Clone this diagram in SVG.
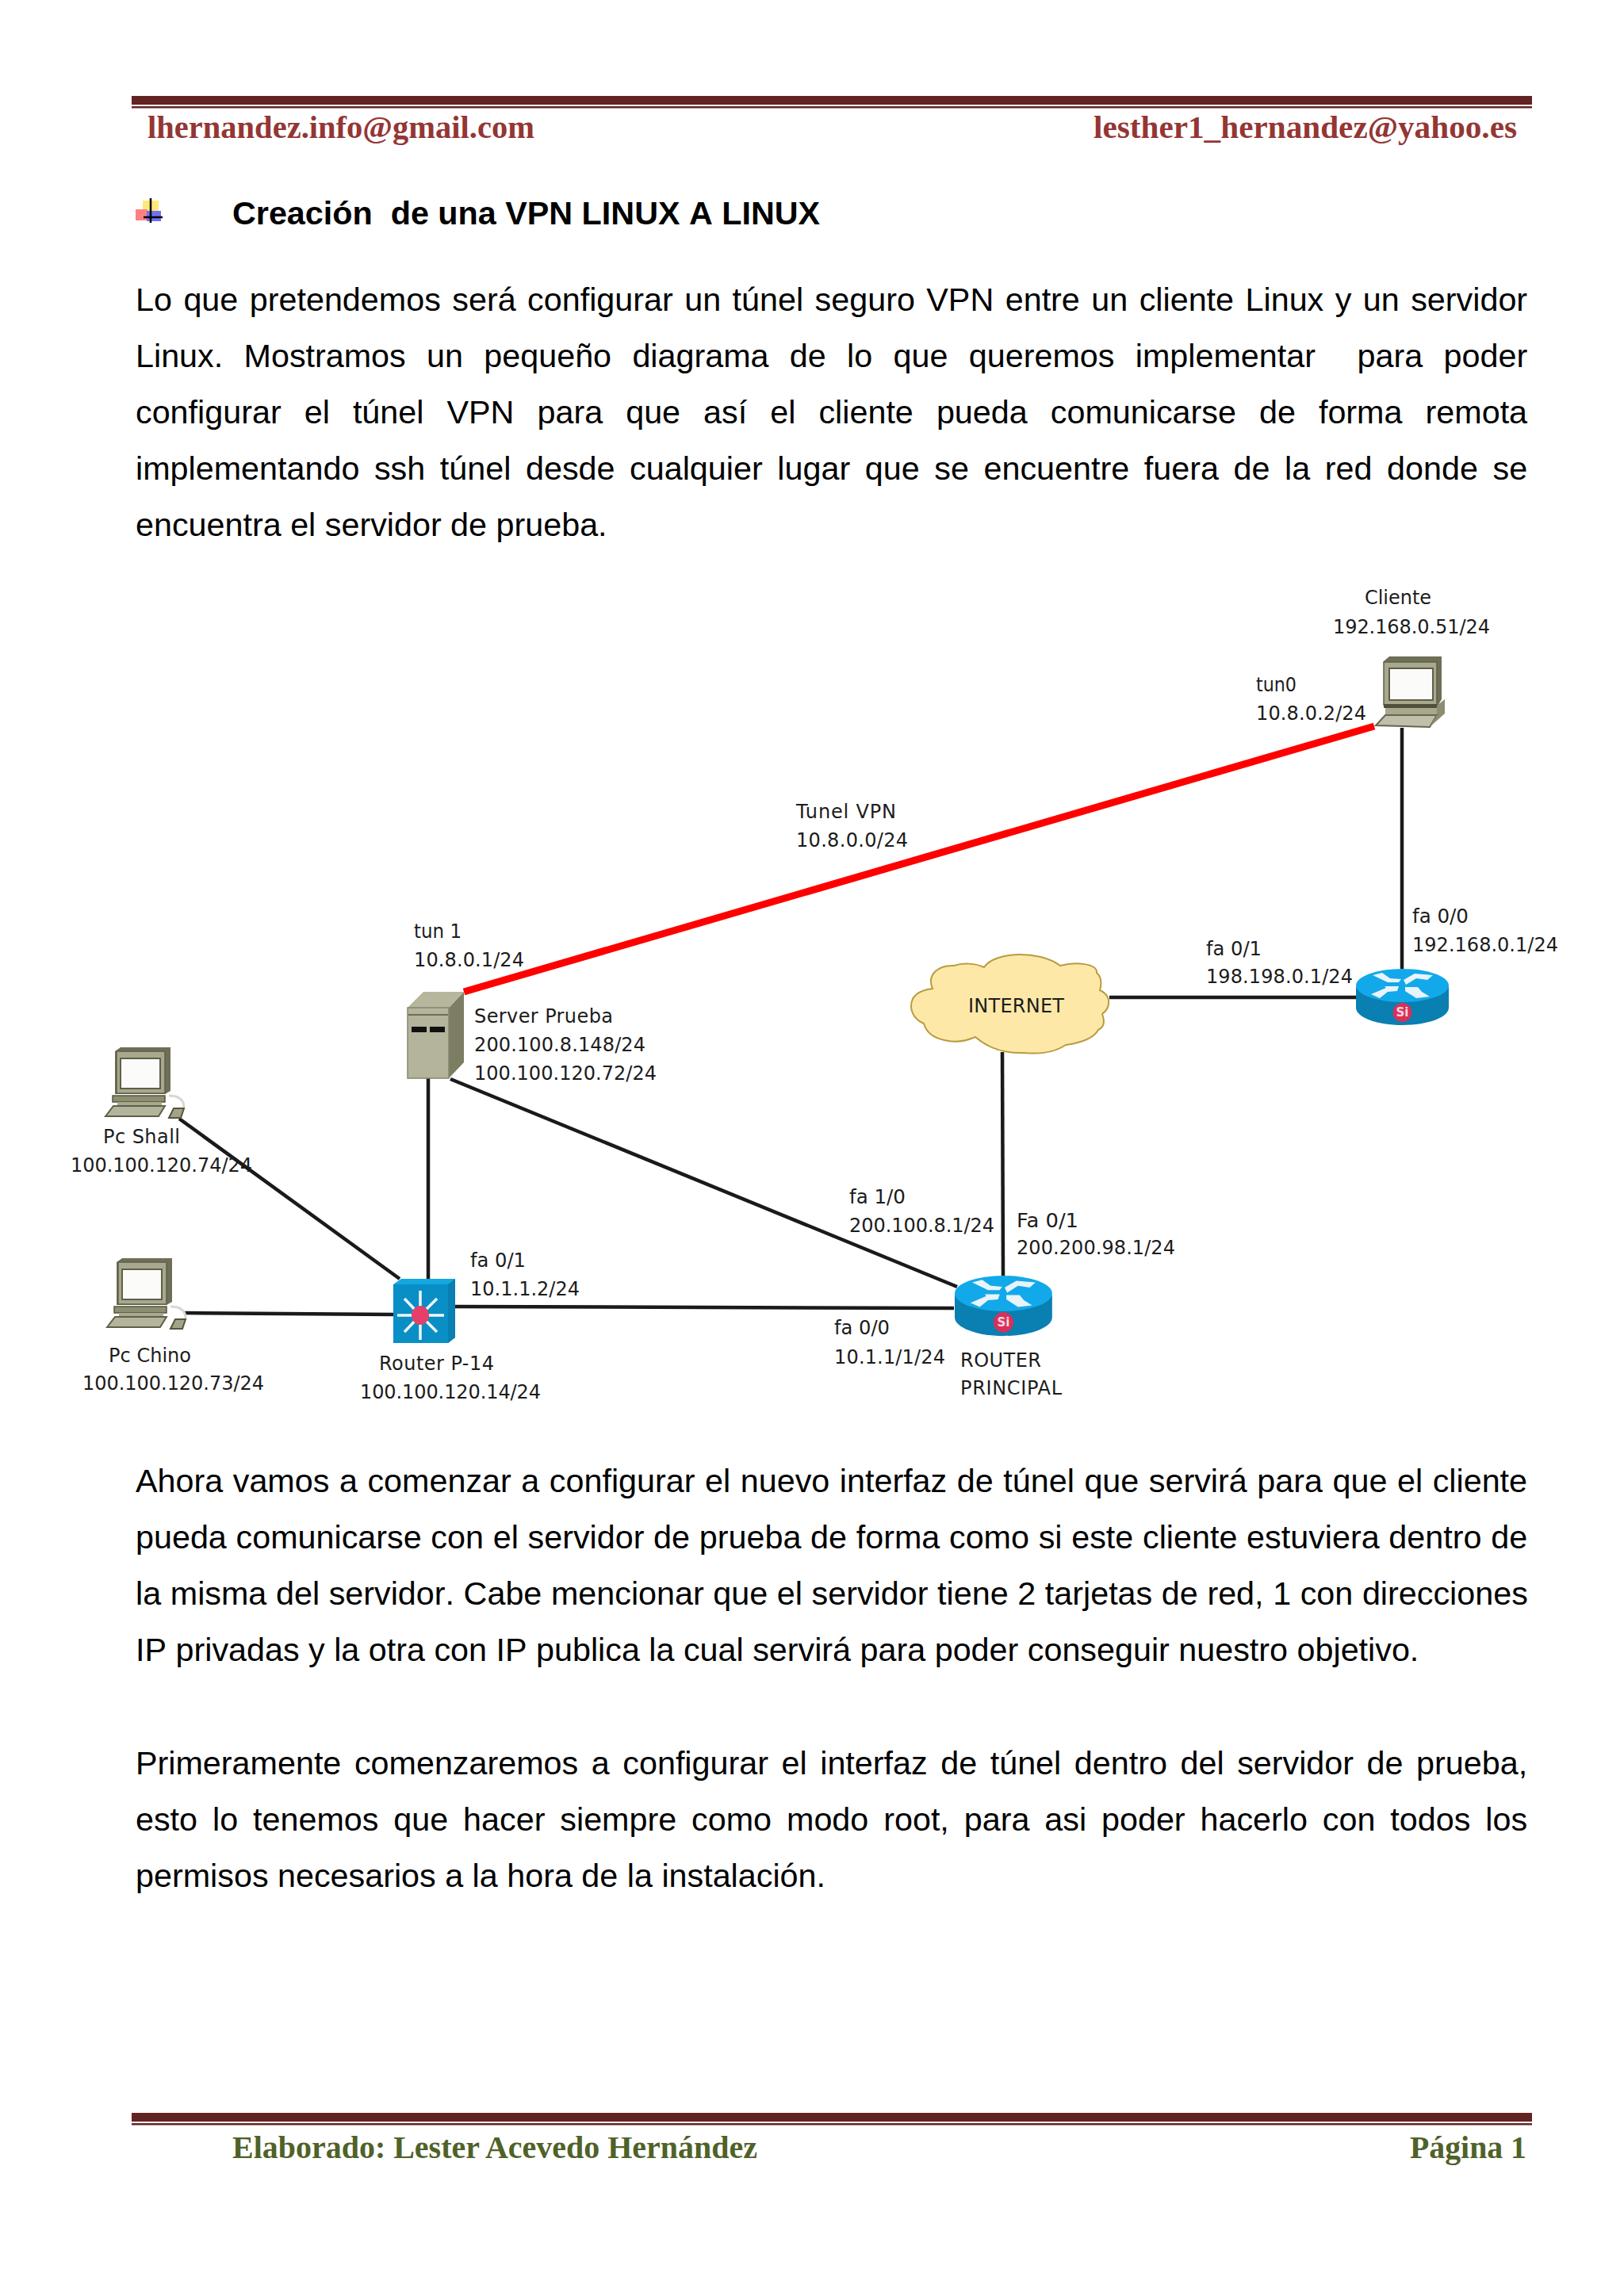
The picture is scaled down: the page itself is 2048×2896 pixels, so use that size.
<svg xmlns="http://www.w3.org/2000/svg" width="2048" height="2896" viewBox="0 0 2048 2896">
<style>
.b{font-family:"Liberation Sans",Arial,sans-serif;font-size:41.3px;fill:#000;font-kerning:none;white-space:pre}
.t{font-family:"Liberation Sans",Arial,sans-serif;font-size:41.3px;font-weight:bold;fill:#000;font-kerning:none;white-space:pre}
.h{font-family:"Liberation Serif","Times New Roman",serif;font-size:41px;font-weight:bold;fill:#943634}
.f{font-family:"Liberation Serif","Times New Roman",serif;font-size:41px;font-weight:bold;fill:#4f6228}
.l{font-family:"DejaVu Sans",Verdana,sans-serif;font-size:24px;fill:#1c1c1c}
.si{font-family:"DejaVu Sans",Verdana,sans-serif;font-size:15px;font-weight:bold;fill:#f4d8de;text-anchor:middle}
.rule{fill:#622423}
.wire{fill:none;stroke:#1a1a1a;stroke-width:4.500}
.vpn{fill:none;stroke:#f00;stroke-width:9}
</style>
<defs>
<g id="router-icon">
<path d="M0 23V49C0 61 26 71 58.500 71S117 61 117 49V23Z" fill="#0a7fb2"/>
<ellipse cx="58.500" cy="21" rx="58.500" ry="21" fill="#12a9ea"/>
<g fill="#e8f4fa">
<path d="M21 8L33 5L43 12L57 13L54 17L40 17Z"/>
<path d="M97 8L74 6L60 14L63 20L76 12L90 14Z"/>
<path d="M19 32L38 24L36 22L54 22L52 28L40 29L30 37Z"/>
<path d="M93 35L76 37L62 28L62 23L78 23L83 29Z"/>
</g>
<circle cx="58.500" cy="55" r="12" fill="#d8305a"/>
</g>
<g id="pc-icon">
<path d="M11 6L18 1H81V56L74 60H11Z" fill="#6f6f58"/>
<rect x="13" y="6" width="61" height="53" fill="#a8a88e" stroke="#5f5f48" stroke-width="1.500"/>
<rect x="18" y="15" width="50" height="38" fill="#fbfbf9" stroke="#5f5f48" stroke-width="2"/>
<rect x="8" y="62" width="66" height="8" fill="#8d8d72" stroke="#55553f" stroke-width="1.500"/>
<rect x="14" y="70" width="56" height="5" fill="#a8a88e"/>
<path d="M-1 88L9 75H74L66 88Z" fill="#b4b49c" stroke="#5f5f48" stroke-width="2"/>
<path d="M79 62C90 62 98 66 98 77" fill="none" stroke="#d8d8d0" stroke-width="3"/>
<path d="M79 90L85 78H98L94 90Z" fill="#a3a388" stroke="#55553f" stroke-width="2"/>
</g>
</defs>
<rect width="2048" height="2896" fill="#fff"/>

<rect class="rule" x="166" y="121" width="1766" height="11"/>
<rect class="rule" x="166" y="134" width="1766" height="2.500"/>
<text class="h" x="186" y="173.500" textLength="488" lengthAdjust="spacingAndGlyphs">lhernandez.info@gmail.com</text>
<text class="h" x="1379" y="173.500" textLength="534" lengthAdjust="spacingAndGlyphs">lesther1_hernandez@yahoo.es</text>

<g id="bullet">
<rect x="180" y="253" width="20" height="22" fill="#ffe97a"/>
<rect x="171" y="264" width="15" height="14" fill="#ff8080"/>
<rect x="185" y="266" width="18" height="13" fill="#7070f0"/>
<path d="M190 250V281M181 274H205" stroke="#000" stroke-width="2.500" fill="none"/>
</g>
<text class="t" x="293" y="282.500">Creación  de una VPN LINUX A LINUX</text>

<text class="b" x="171" y="391.500" word-spacing="2.990">Lo que pretendemos será configurar un túnel seguro VPN entre un cliente Linux y un servidor</text>
<text class="b" x="171" y="462.500" word-spacing="14.840">Linux. Mostramos un pequeño diagrama de lo que queremos implementar  para poder</text>
<text class="b" x="171" y="533.500" word-spacing="17.580">configurar el túnel VPN para que así el cliente pueda comunicarse de forma remota</text>
<text class="b" x="171" y="604.500" word-spacing="7.130">implementando ssh túnel desde cualquier lugar que se encuentre fuera de la red donde se</text>
<text class="b" x="171" y="675.500">encuentra el servidor de prueba.</text>

<g id="connectors">
<path class="vpn" d="M585 1251L1733 916"/>
<path class="wire" d="M1768 918V1222"/>
<path class="wire" d="M1399 1258H1710"/>
<path class="wire" d="M1264 1327L1265 1609"/>
<path class="wire" d="M568 1361L1207 1623"/>
<path class="wire" d="M574 1648L1203 1650"/>
<path class="wire" d="M540 1360V1613"/>
<path class="wire" d="M226 1411L504 1613"/>
<path class="wire" d="M233 1656L496 1658"/>
</g>

<g id="cliente">
<path d="M1745 834L1752 828H1818V882L1812 892H1745Z" fill="#6f6f58"/>
<rect x="1745" y="835" width="67" height="54" fill="#a8a88e" stroke="#5f5f48" stroke-width="1.500"/>
<rect x="1752" y="843" width="55" height="40" fill="#fbfbf9" stroke="#5f5f48" stroke-width="2"/>
<rect x="1745" y="888" width="67" height="5" fill="#4f4f3a"/>
<path d="M1812 890L1822 882V900L1812 905Z" fill="#8d8d72"/>
<rect x="1747" y="893" width="65" height="9" fill="#a8a88e"/>
<path d="M1735 915L1747 902H1812L1803 917Z" fill="#c0c0aa" stroke="#66664f" stroke-width="2"/>
<path d="M1812 902L1822 900L1803 917Z" fill="#8d8d72"/>
<text class="l" x="1721" y="762" textLength="84" lengthAdjust="spacingAndGlyphs">Cliente</text>
<text class="l" x="1681" y="799" textLength="198">192.168.0.51/24</text>
<text class="l" x="1584" y="872" textLength="51" lengthAdjust="spacingAndGlyphs">tun0</text>
<text class="l" x="1584" y="908" textLength="139">10.8.0.2/24</text>
</g>

<g id="router-r">
<use href="#router-icon" x="1710" y="1222"/>
<text class="si" x="1768.500" y="1282">Si</text>
<text class="l" x="1781" y="1164" textLength="71" lengthAdjust="spacingAndGlyphs">fa 0/0</text>
<text class="l" x="1781" y="1200" textLength="184">192.168.0.1/24</text>
<text class="l" x="1521" y="1205" textLength="70" lengthAdjust="spacingAndGlyphs">fa 0/1</text>
<text class="l" x="1521" y="1240" textLength="185">198.198.0.1/24</text>
</g>

<g id="internet">
<path d="M1149 1269C1149 1255 1160 1249 1176 1247C1168 1228 1185 1217 1203 1218C1214 1214 1230 1215 1241 1220C1254 1200 1310 1198 1337 1218C1356 1213 1384 1215 1383 1227C1390 1233 1389 1243 1387 1249C1396 1253 1399 1260 1398 1265C1398 1271 1394 1276 1390 1279C1394 1290 1392 1296 1385 1299C1378 1312 1358 1316 1344 1318C1326 1330 1305 1329 1291 1328C1268 1329 1246 1322 1230 1308C1216 1314 1202 1315 1191 1312C1177 1309 1168 1302 1165 1291C1155 1287 1149 1278 1149 1269Z" fill="#fde8a8" stroke="#b89c3e" stroke-width="2"/>
<text class="l" x="1221" y="1277" textLength="121">INTERNET</text>
</g>

<g id="router-principal">
<use href="#router-icon" transform="translate(1204 1609) scale(1.050 1.070)"/>
<text class="si" x="1265.500" y="1673">Si</text>
<text class="l" x="1071" y="1518" textLength="71" lengthAdjust="spacingAndGlyphs">fa 1/0</text>
<text class="l" x="1071" y="1554" textLength="183">200.100.8.1/24</text>
<text class="l" x="1282" y="1548" textLength="78" lengthAdjust="spacingAndGlyphs">Fa 0/1</text>
<text class="l" x="1282" y="1582" textLength="200">200.200.98.1/24</text>
<text class="l" x="1052" y="1683" textLength="70" lengthAdjust="spacingAndGlyphs">fa 0/0</text>
<text class="l" x="1052" y="1720" textLength="140">10.1.1/1/24</text>
<text class="l" x="1211" y="1724" textLength="102">ROUTER</text>
<text class="l" x="1211" y="1759" textLength="128">PRINCIPAL</text>
</g>

<g id="server-prueba">
<path d="M566 1271L585 1251V1340L566 1360Z" fill="#7d7d63"/>
<path d="M514 1271L534 1251H585L566 1271Z" fill="#b6b69d"/>
<rect x="514" y="1271" width="52" height="89" fill="#b4b49c" stroke="#85856d" stroke-width="1.500"/>
<path d="M515 1280H565" stroke="#6d6d55" stroke-width="2"/>
<rect x="519" y="1295" width="19" height="7" fill="#111"/>
<rect x="542" y="1295" width="19" height="7" fill="#111"/>
<text class="l" x="598" y="1290" textLength="175">Server Prueba</text>
<text class="l" x="598" y="1326" textLength="216">200.100.8.148/24</text>
<text class="l" x="598" y="1362" textLength="230">100.100.120.72/24</text>
<text class="l" x="522" y="1183" textLength="60" lengthAdjust="spacingAndGlyphs">tun 1</text>
<text class="l" x="522" y="1219" textLength="139">10.8.0.1/24</text>
</g>

<g id="pc-shall">
<use href="#pc-icon" x="134" y="1320"/>
<text class="l" x="130" y="1442" textLength="97">Pc Shall</text>
<text class="l" x="89" y="1478" textLength="229">100.100.120.74/24</text>
</g>

<g id="pc-chino">
<use href="#pc-icon" x="136" y="1586"/>
<text class="l" x="137" y="1718" textLength="104">Pc Chino</text>
<text class="l" x="104" y="1753" textLength="229">100.100.120.73/24</text>
</g>

<g id="router-p14">
<path d="M496 1620L506 1613H574V1687L565 1694H496Z" fill="#14a8e0"/>
<path d="M565 1620L574 1613V1687L565 1694Z" fill="#0a7fb2"/>
<rect x="496" y="1620" width="69" height="74" fill="#0a8ec6"/>
<g stroke="#eef8fc" stroke-width="3.500" fill="none">
<path d="M530 1659V1628M530 1659V1690M530 1659H501M530 1659H560M530 1659L510 1638M530 1659L551 1638M530 1659L510 1680M530 1659L551 1680"/>
</g>
<ellipse cx="530" cy="1659" rx="11" ry="12" fill="#e4406a"/>
<text class="l" x="478" y="1728" textLength="145">Router P-14</text>
<text class="l" x="454" y="1764" textLength="228">100.100.120.14/24</text>
<text class="l" x="593" y="1598" textLength="70" lengthAdjust="spacingAndGlyphs">fa 0/1</text>
<text class="l" x="593" y="1634" textLength="138">10.1.1.2/24</text>
</g>

<g id="tunel-vpn">
<text class="l" x="1004" y="1032" textLength="126">Tunel VPN</text>
<text class="l" x="1004" y="1068" textLength="141">10.8.0.0/24</text>
</g>

<text class="b" x="171" y="1881.500" word-spacing="1.080">Ahora vamos a comenzar a configurar el nuevo interfaz de túnel que servirá para que el cliente</text>
<text class="b" x="171" y="1952.500" word-spacing="0.240">pueda comunicarse con el servidor de prueba de forma como si este cliente estuviera dentro de</text>
<text class="b" x="171" y="2023.500" word-spacing="0.130">la misma del servidor. Cabe mencionar que el servidor tiene 2 tarjetas de red, 1 con direcciones</text>
<text class="b" x="171" y="2094.500">IP privadas y la otra con IP publica la cual servirá para poder conseguir nuestro objetivo.</text>

<text class="b" x="171" y="2237.500" word-spacing="5.090">Primeramente comenzaremos a configurar el interfaz de túnel dentro del servidor de prueba,</text>
<text class="b" x="171" y="2308.500" word-spacing="7.430">esto lo tenemos que hacer siempre como modo root, para asi poder hacerlo con todos los</text>
<text class="b" x="171" y="2379.500">permisos necesarios a la hora de la instalación.</text>

<rect class="rule" x="166" y="2665" width="1766" height="11"/>
<rect class="rule" x="166" y="2678" width="1766" height="2.500"/>
<text class="f" x="293" y="2721.500" textLength="662" lengthAdjust="spacingAndGlyphs">Elaborado: Lester Acevedo Hernández</text>
<text class="f" x="1778" y="2721.500" textLength="147" lengthAdjust="spacingAndGlyphs">Página 1</text>
</svg>
